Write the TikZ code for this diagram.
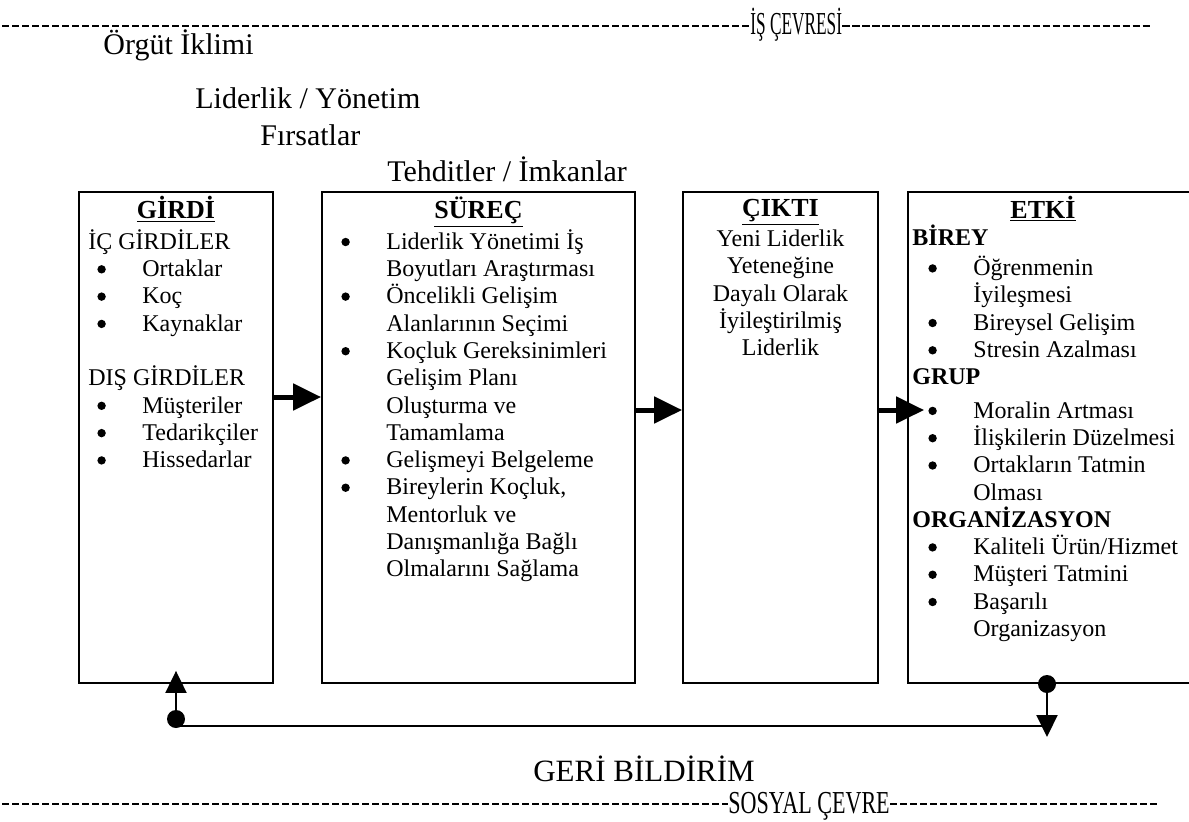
\documentclass[tikz,border=0pt]{standalone}
\usepackage{fontspec}
\setmainfont{Liberation Serif}
\usetikzlibrary{arrows.meta}

\newcommand{\govde}{\fontsize{12}{13.65}\selectfont}
\newcommand{\bl}[1][0pt]{\hspace*{#1}\makebox[24pt][l]{\hspace*{1.5pt}\tikz[baseline=-3.6pt]\fill (0pt,0pt) circle (2.1pt);}}
\newcommand{\cn}[1][0pt]{\hspace*{#1}\hspace*{24pt}}

\tikzset{
  kutu/.style={draw, line width=0.9pt, minimum width=#1, minimum height=245.5pt, inner sep=0pt},
  baslik/.style={anchor=base, inner sep=0pt, font=\fontsize{13}{15}\selectfont\bfseries},
  icerik/.style={anchor=north west, inner sep=0pt, align=left, font=\govde},
  ustyazi/.style={anchor=base west, inner sep=0pt, font=\fontsize{15}{18}\selectfont},
  tire/.style={line width=1.2pt, dash pattern=on 3.6pt off 1.4pt},
  kalinok/.style={line width=2.5pt, -{Triangle[length=14pt,width=13pt]}},
  geriok/.style={line width=1pt, -{Triangle[length=11pt,width=10.5pt]}},
  nokta/.style={circle, fill, inner sep=0pt, minimum size=9pt}
}

\begin{document}
\begin{tikzpicture}[x=0.5pt,y=0.5pt,yscale=-1,xscale=1]
    \useasboundingbox (0,0) rectangle (1189,821);

    % Text Node
    \node[anchor=base west, inner sep=0pt] (isCevre) at (750,34) {\scalebox{0.54}[1]{\fontsize{16}{19}\selectfont İŞ ÇEVRESİ}};
    \coordinate (ustSol) at (2,26);
    \coordinate (ustSag) at (1150,26);
    %Straight Lines
    \draw[tire] (ustSol) -- (ustSol -| isCevre.west);
    \draw[tire] (ustSol -| isCevre.east) -- (ustSag);

    % Text Node
    \node[ustyazi] (iklim) at (103,54) {Örgüt İklimi};
    \node[ustyazi] (liderlik) at (195,108) {Liderlik / Yönetim};
    \node[ustyazi] (firsat) at (260,145) {Fırsatlar};
    \node[ustyazi] (tehdit) at (387,181) {Tehditler / İmkanlar};

    %Shape: Rectangle
    \node[kutu=97pt] (girdi) at (176,437.5) {};
    \node[kutu=156.5pt] (surec) at (478.5,437.5) {};
    \node[kutu=97.5pt] (cikti) at (780.5,437.5) {};
    \node[kutu=142pt] (etki) at (1050,437.5) {};

    % Text Node
    \node[baslik] (girdiBaslik) at (176,218) {\underline{GİRDİ}};
    \node[icerik] (girdiMetin) at (88,229) {İÇ GİRDİLER\strut\\
        \bl[3pt]Ortaklar\\
        \bl[3pt]Koç\\
        \bl[3pt]Kaynaklar\\[13.65pt]
        DIŞ GİRDİLER\\
        \bl[3pt]Müşteriler\\
        \bl[3pt]Tedarikçiler\\
        \bl[3pt]Hissedarlar};

    % Text Node
    \node[baslik] (surecBaslik) at (478.5,218) {\underline{SÜREÇ}};
    \node[icerik] (surecMetin) at (338,229) {\bl Liderlik Yönetimi İş\strut\\
        \cn Boyutları Araştırması\\
        \bl Öncelikli Gelişim\\
        \cn Alanlarının Seçimi\\
        \bl Koçluk Gereksinimleri\\
        \cn Gelişim Planı\\
        \cn Oluşturma ve\\
        \cn Tamamlama\\
        \bl Gelişmeyi Belgeleme\\
        \bl Bireylerin Koçluk,\\
        \cn Mentorluk ve\\
        \cn Danışmanlığa Bağlı\\
        \cn Olmalarını Sağlama};

    % Text Node
    \node[baslik] (ciktiBaslik) at (780.5,216) {\underline{ÇIKTI}};
    \node[icerik, anchor=north, align=center] (ciktiMetin) at (780.5,227) {Yeni Liderlik\strut\\
        Yeteneğine\\
        Dayalı Olarak\\
        İyileştirilmiş\\
        Liderlik};

    % Text Node
    \node[baslik] (etkiBaslik) at (1043,218) {\underline{ETKİ}};
    \node[icerik] (etkiMetin) at (912,225) {\textbf{BİREY}\strut\\
        \bl[6.5pt]Öğrenmenin\\
        \cn[6.5pt]İyileşmesi\\
        \bl[6.5pt]Bireysel Gelişim\\
        \bl[6.5pt]Stresin Azalması\\
        \textbf{GRUP}\\[3pt]
        \bl[6.5pt]Moralin Artması\\
        \bl[6.5pt]İlişkilerin Düzelmesi\\
        \bl[6.5pt]Ortakların Tatmin\\
        \cn[6.5pt]Olması\\
        \textbf{ORGANİZASYON}\\
        \bl[6.5pt]Kaliteli Ürün/Hizmet\\
        \bl[6.5pt]Müşteri Tatmini\\
        \bl[6.5pt]Başarılı\\
        \cn[6.5pt]Organizasyon};

    %Straight Lines [arrows]
    \draw[kalinok] ([yshift=-20.25pt]girdi.east) -- ([yshift=-20.25pt]surec.west);
    \draw[kalinok] ([yshift=-13.75pt]surec.east) -- ([yshift=-13.75pt]cikti.west);
    \draw[kalinok] ([yshift=-13.75pt]cikti.east) -- ([yshift=-13.75pt,xshift=8.5pt]etki.west);

    %Shape: feedback
    \node[nokta] (fbSol) at (176,719) {};
    \node[nokta] (fbSag) at (1047,684) {};
    \coordinate (fbDon) at (1047,726);
    \coordinate (fbUc) at (1047,737);
    \draw[geriok] (fbSol) -- ([yshift=-6.5pt]girdi.south);
    \draw[line width=1pt] ([yshift=3.5pt]fbSol.center) -- (fbDon);
    \draw[geriok] (fbSag) -- (fbUc);

    % Text Node
    \node[anchor=base, inner sep=0pt, font=\fontsize{15.5}{18}\selectfont] (geri) at (644,781) {GERİ BİLDİRİM};

    % Text Node
    \node[anchor=base west, inner sep=0pt] (sosyal) at (728,813) {\scalebox{0.69}[1]{\fontsize{16}{19}\selectfont SOSYAL ÇEVRE}};
    \coordinate (altSol) at (2,804);
    \coordinate (altSag) at (1160,804);
    %Straight Lines
    \draw[tire] (altSol) -- (altSol -| sosyal.west);
    \draw[tire] (altSol -| sosyal.east) -- (altSag);

\end{tikzpicture}
\end{document}
